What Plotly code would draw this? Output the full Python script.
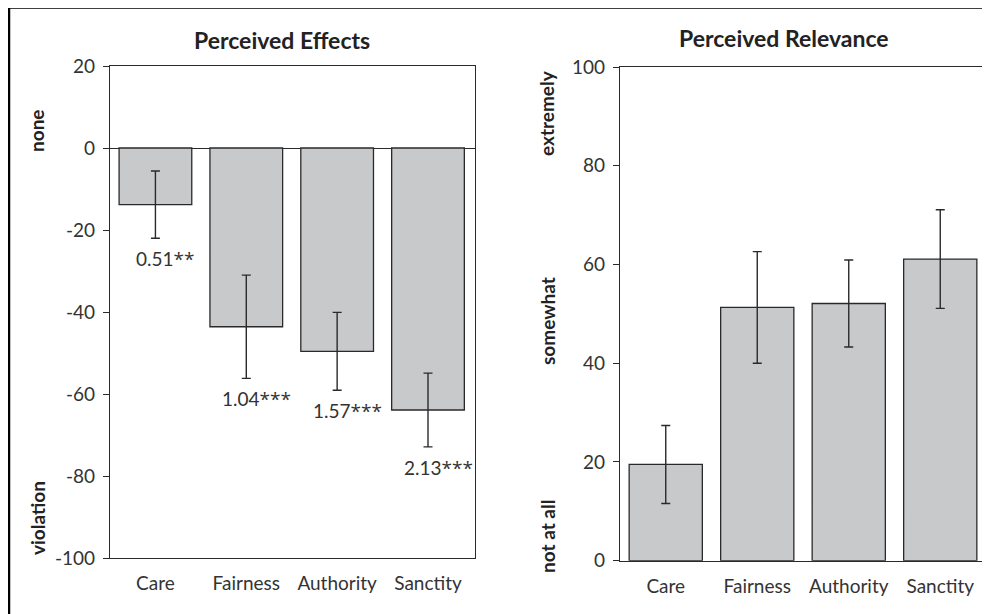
import plotly.graph_objects as go

categories = ["Care", "Fairness", "Authority", "Sanctity"]

effects_mean = [-13.8, -43.6, -49.6, -63.9]
effects_err = [8.2, 12.6, 9.5, 9.0]
effects_labels = ["0.51**", "1.04***", "1.57***", "2.13***"]

relevance_mean = [19.5, 51.3, 52.1, 61.1]
relevance_err = [7.9, 11.3, 8.8, 10.0]

effects_ticks = [20, 0, -20, -40, -60, -80, -100]
relevance_ticks = [100, 80, 60, 40, 20, 0]

# page body has an 8px margin, so the figure is drawn 8px in from the window edge
OFF = 8
W, H = 990 - OFF, 614 - OFF
FONT = "Lato"
TXT = "#333333"
BAR = "#C8C9CB"
EDGE = "#2a2a2a"

def px_x(p):
    return (p - OFF) / W

def px_y(p):
    return 1 - (p - OFF) / H

def fmt_label(s):
    num = s.rstrip("*")
    stars = s[len(num):]
    return "%s<span style='font-family:Open Sans'>%s</span>" % (num, stars)

fig = go.Figure()

fig.add_trace(go.Bar(
    x=categories, y=effects_mean, xaxis="x", yaxis="y",
    marker=dict(color=BAR, line=dict(color=EDGE, width=1.3)),
    error_y=dict(type="data", array=effects_err, color=EDGE, thickness=1.4, width=4.5),
    showlegend=False, hoverinfo="skip",
))
fig.add_trace(go.Bar(
    x=categories, y=relevance_mean, xaxis="x2", yaxis="y2",
    marker=dict(color=BAR, line=dict(color=EDGE, width=1.3)),
    error_y=dict(type="data", array=relevance_err, color=EDGE, thickness=1.4, width=4.5),
    showlegend=False, hoverinfo="skip",
))

axis_common = dict(
    showgrid=False, showline=True, mirror=True, linecolor=EDGE, linewidth=1.4,
    automargin=False,
    tickfont=dict(family=FONT, size=19, color=TXT),
)

annotations = []
for c, m, e, t in zip(categories, effects_mean, effects_err, effects_labels):
    annotations.append(dict(
        x=c, y=m - e, xref="x", yref="y", text=fmt_label(t), showarrow=False,
        yanchor="top", yshift=-6, xshift=10,
        font=dict(family=FONT, size=19, color=TXT),
    ))

titles = [("Perceived Effects", 282, 40), ("Perceived Relevance", 784, 38)]
for t, x, y in titles:
    annotations.append(dict(
        x=px_x(x), y=px_y(y), xref="paper", yref="paper", text="<b>%s</b>" % t,
        showarrow=False, xanchor="center", yanchor="middle",
        font=dict(family=FONT, size=23, color="#222222"),
    ))

side = [("none", 37, 131), ("violation", 37, 518),
        ("extremely", 547, 113), ("somewhat", 547, 321), ("not at all", 547, 537)]
for t, x, y in side:
    annotations.append(dict(
        x=px_x(x), y=px_y(y), xref="paper", yref="paper", text="<b>%s</b>" % t,
        showarrow=False, xanchor="center", yanchor="middle", textangle=-90,
        font=dict(family=FONT, size=19, color="#222222"),
    ))

fig.update_layout(
    width=W, height=H,
    margin=dict(l=0, r=0, t=0, b=0),
    paper_bgcolor="white", plot_bgcolor="white",
    bargap=0.2,
    font=dict(family=FONT, color=TXT),
    xaxis=dict(domain=[px_x(110), px_x(474.5)], anchor="y", ticks="",
               ticklabelstandoff=8, **axis_common),
    yaxis=dict(domain=[px_y(558), px_y(66)], anchor="x", range=[-100, 20],
               tickvals=effects_ticks, ticktext=[str(v) for v in effects_ticks],
               ticks="outside", ticklen=6, tickcolor=EDGE, ticklabelstandoff=4,
               zeroline=True, zerolinecolor=EDGE, zerolinewidth=1.4,
               **axis_common),
    xaxis2=dict(domain=[px_x(620), px_x(986)], anchor="y2", ticks="",
                ticklabelstandoff=8, **axis_common),
    yaxis2=dict(domain=[px_y(560.7), px_y(67)], anchor="x2", range=[0, 100],
                tickvals=relevance_ticks, ticktext=[str(v) for v in relevance_ticks],
                ticks="outside", ticklen=6, tickcolor=EDGE, ticklabelstandoff=4,
                zeroline=False, **axis_common),
    annotations=annotations,
    shapes=[
        dict(type="line", xref="paper", yref="paper", x0=px_x(8), x1=1,
             y0=px_y(7.5), y1=px_y(7.5), line=dict(color="black", width=2.5)),
        dict(type="line", xref="paper", yref="paper", x0=px_x(9), x1=px_x(9),
             y0=px_y(7), y1=0, line=dict(color="black", width=2.5)),
    ],
)

fig.write_html("out.html")
